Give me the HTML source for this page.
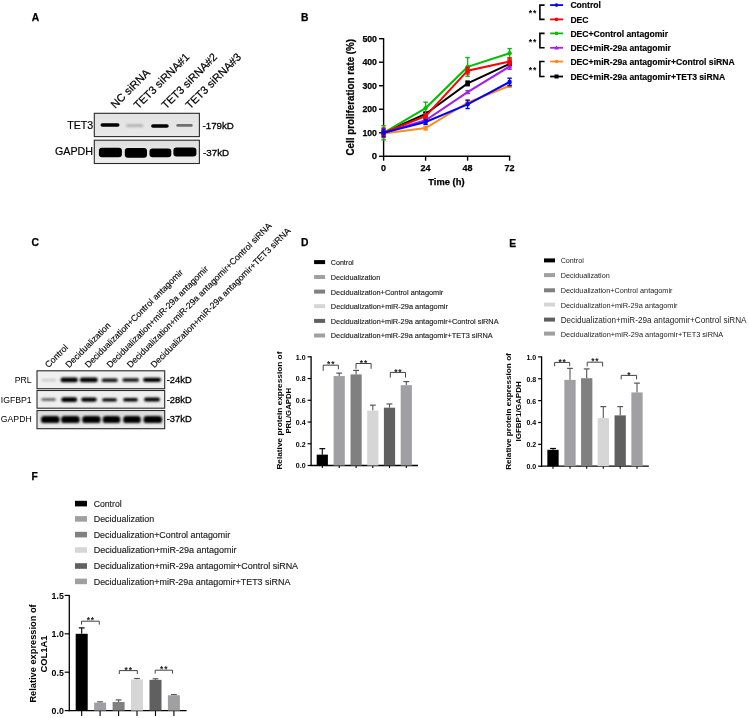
<!DOCTYPE html>
<html><head><meta charset="utf-8"><style>
html,body{margin:0;padding:0;background:#fff;}
svg{display:block;will-change:transform;filter:blur(0.3px);}
text{font-family:"Liberation Sans", sans-serif;}
</style></head><body>
<svg width="749" height="718" viewBox="0 0 749 718" font-family='"Liberation Sans", sans-serif'>
<defs>
<linearGradient id="gG" x1="0" y1="0" x2="0" y2="1"><stop offset="0" stop-color="#dadada"/><stop offset="1" stop-color="#ececec"/></linearGradient>
<linearGradient id="gA1" x1="0" y1="0" x2="0" y2="1"><stop offset="0" stop-color="#e2e2e2"/><stop offset="1" stop-color="#e8e8e8"/></linearGradient>
<linearGradient id="gA2" x1="0" y1="0" x2="0" y2="1"><stop offset="0" stop-color="#dedede"/><stop offset="1" stop-color="#eeeeee"/></linearGradient>
<filter id="b6" x="-30%" y="-100%" width="160%" height="300%"><feGaussianBlur stdDeviation="0.6"/></filter>
<filter id="b7" x="-30%" y="-100%" width="160%" height="300%"><feGaussianBlur stdDeviation="0.7"/></filter>
<filter id="b9" x="-30%" y="-100%" width="160%" height="300%"><feGaussianBlur stdDeviation="0.9"/></filter>
<filter id="b8" x="-30%" y="-100%" width="160%" height="300%"><feGaussianBlur stdDeviation="0.8"/></filter>
</defs>
<rect width="749" height="718" fill="#fff"/>
<text x="31.70" y="20.60" font-size="10.3" font-weight="bold" stroke="#000" stroke-width="0.25">A</text>
<text x="301.00" y="21.30" font-size="10.3" font-weight="bold" stroke="#000" stroke-width="0.25">B</text>
<text x="31.50" y="246.00" font-size="10.3" font-weight="bold" stroke="#000" stroke-width="0.25">C</text>
<text x="301.00" y="246.30" font-size="10.3" font-weight="bold" stroke="#000" stroke-width="0.25">D</text>
<text x="509.30" y="246.70" font-size="10.3" font-weight="bold" stroke="#000" stroke-width="0.25">E</text>
<text x="31.50" y="479.60" font-size="10.3" font-weight="bold" stroke="#000" stroke-width="0.25">F</text>
<rect x="94.30" y="113.30" width="105.10" height="23.30" fill="url(#gA1)" stroke="#2a2a2a" stroke-width="1.1"/>
<rect x="94.30" y="140.20" width="105.10" height="23.30" fill="url(#gA2)" stroke="#2a2a2a" stroke-width="1.1"/>
<rect x="100.50" y="123.25" width="19.00" height="3.50" rx="1.75" fill="#000" opacity="1.0" filter="url(#b7)"/>
<rect x="126.00" y="124.20" width="17.40" height="2.80" rx="1.40" fill="#b0b0b0" opacity="1.0" filter="url(#b8)"/>
<rect x="151.10" y="124.25" width="17.60" height="3.50" rx="1.75" fill="#000" opacity="1.0" filter="url(#b7)"/>
<rect x="176.30" y="123.95" width="16.40" height="2.90" rx="1.45" fill="#707070" opacity="1.0" filter="url(#b7)"/>
<rect x="98.90" y="147.70" width="23.00" height="9.60" rx="3.00" fill="#000" opacity="1.0" filter="url(#b6)"/>
<rect x="124.80" y="148.10" width="22.20" height="9.60" rx="3.00" fill="#000" opacity="1.0" filter="url(#b6)"/>
<rect x="149.50" y="148.60" width="21.80" height="8.60" rx="3.00" fill="#000" opacity="1.0" filter="url(#b6)"/>
<rect x="173.40" y="147.50" width="23.00" height="9.00" rx="3.00" fill="#000" opacity="1.0" filter="url(#b6)"/>
<text x="93.10" y="128.90" font-size="11.7" text-anchor="end" textLength="25.9" lengthAdjust="spacingAndGlyphs" stroke="#000" stroke-width="0.2">TET3</text>
<text x="93.10" y="154.80" font-size="11.8" text-anchor="end" textLength="38.1" lengthAdjust="spacingAndGlyphs" stroke="#000" stroke-width="0.2">GAPDH</text>
<text x="202.50" y="128.70" font-size="9.8" textLength="31.4" lengthAdjust="spacingAndGlyphs" stroke="#000" stroke-width="0.3">-179kD</text>
<text x="203.00" y="156.00" font-size="9.8" textLength="26.1" lengthAdjust="spacingAndGlyphs" stroke="#000" stroke-width="0.3">-37kD</text>
<text x="115.20" y="108.90" font-size="11" transform="rotate(-45 115.20 108.90)" stroke="#000" stroke-width="0.2">NC siRNA</text>
<text x="138.20" y="109.60" font-size="11" transform="rotate(-45 138.20 109.60)" stroke="#000" stroke-width="0.2">TET3 siRNA#1</text>
<text x="166.00" y="109.60" font-size="11" transform="rotate(-45 166.00 109.60)" stroke="#000" stroke-width="0.2">TET3 siRNA#2</text>
<text x="190.00" y="109.60" font-size="11" transform="rotate(-45 190.00 109.60)" stroke="#000" stroke-width="0.2">TET3 siRNA#3</text>
<line x1="383.60" y1="38.10" x2="383.60" y2="156.90" stroke="#000" stroke-width="1.4"/>
<line x1="382.90" y1="156.30" x2="510.30" y2="156.30" stroke="#000" stroke-width="1.4"/>
<line x1="379.00" y1="156.30" x2="383.60" y2="156.30" stroke="#000" stroke-width="1.4"/>
<text x="377.00" y="159.40" font-size="9.5" font-weight="bold" text-anchor="end" stroke="#000" stroke-width="0.25">0</text>
<line x1="379.00" y1="132.78" x2="383.60" y2="132.78" stroke="#000" stroke-width="1.4"/>
<text x="377.00" y="135.88" font-size="9.5" font-weight="bold" text-anchor="end" textLength="14.6" lengthAdjust="spacingAndGlyphs" stroke="#000" stroke-width="0.25">100</text>
<line x1="379.00" y1="109.26" x2="383.60" y2="109.26" stroke="#000" stroke-width="1.4"/>
<text x="377.00" y="112.36" font-size="9.5" font-weight="bold" text-anchor="end" textLength="14.6" lengthAdjust="spacingAndGlyphs" stroke="#000" stroke-width="0.25">200</text>
<line x1="379.00" y1="85.74" x2="383.60" y2="85.74" stroke="#000" stroke-width="1.4"/>
<text x="377.00" y="88.84" font-size="9.5" font-weight="bold" text-anchor="end" textLength="14.6" lengthAdjust="spacingAndGlyphs" stroke="#000" stroke-width="0.25">300</text>
<line x1="379.00" y1="62.22" x2="383.60" y2="62.22" stroke="#000" stroke-width="1.4"/>
<text x="377.00" y="65.32" font-size="9.5" font-weight="bold" text-anchor="end" textLength="14.6" lengthAdjust="spacingAndGlyphs" stroke="#000" stroke-width="0.25">400</text>
<line x1="379.00" y1="38.70" x2="383.60" y2="38.70" stroke="#000" stroke-width="1.4"/>
<text x="377.00" y="41.80" font-size="9.5" font-weight="bold" text-anchor="end" textLength="14.6" lengthAdjust="spacingAndGlyphs" stroke="#000" stroke-width="0.25">500</text>
<line x1="383.60" y1="156.30" x2="383.60" y2="160.70" stroke="#000" stroke-width="1.4"/>
<text x="383.60" y="170.90" font-size="9.0" font-weight="bold" text-anchor="middle" stroke="#000" stroke-width="0.25">0</text>
<line x1="425.60" y1="156.30" x2="425.60" y2="160.70" stroke="#000" stroke-width="1.4"/>
<text x="425.60" y="170.90" font-size="9.0" font-weight="bold" text-anchor="middle" stroke="#000" stroke-width="0.25">24</text>
<line x1="467.60" y1="156.30" x2="467.60" y2="160.70" stroke="#000" stroke-width="1.4"/>
<text x="467.60" y="170.90" font-size="9.0" font-weight="bold" text-anchor="middle" stroke="#000" stroke-width="0.25">48</text>
<line x1="509.60" y1="156.30" x2="509.60" y2="160.70" stroke="#000" stroke-width="1.4"/>
<text x="509.60" y="170.90" font-size="9.0" font-weight="bold" text-anchor="middle" stroke="#000" stroke-width="0.25">72</text>
<text x="446.40" y="184.60" font-size="9.1" font-weight="bold" text-anchor="middle" textLength="36.2" lengthAdjust="spacingAndGlyphs" stroke="#000" stroke-width="0.25">Time (h)</text>
<text x="353.60" y="97.20" font-size="10.0" font-weight="bold" text-anchor="middle" transform="rotate(-90 353.60 97.20)" textLength="116.6" lengthAdjust="spacingAndGlyphs" stroke="#000" stroke-width="0.25">Cell proliferation rate (%)</text>
<polyline points="383.60,133.49 425.60,128.08 467.60,102.67 509.60,85.74" fill="none" stroke="#ff8c1a" stroke-width="2"/>
<line x1="383.60" y1="132.07" x2="383.60" y2="134.90" stroke="#ff8c1a" stroke-width="1.4"/>
<line x1="381.40" y1="132.07" x2="385.80" y2="132.07" stroke="#ff8c1a" stroke-width="1.4"/>
<line x1="381.40" y1="134.90" x2="385.80" y2="134.90" stroke="#ff8c1a" stroke-width="1.4"/>
<circle cx="383.60" cy="133.49" r="2.2" fill="#ff8c1a"/>
<line x1="425.60" y1="126.19" x2="425.60" y2="129.96" stroke="#ff8c1a" stroke-width="1.4"/>
<line x1="423.40" y1="126.19" x2="427.80" y2="126.19" stroke="#ff8c1a" stroke-width="1.4"/>
<line x1="423.40" y1="129.96" x2="427.80" y2="129.96" stroke="#ff8c1a" stroke-width="1.4"/>
<circle cx="425.60" cy="128.08" r="2.2" fill="#ff8c1a"/>
<line x1="467.60" y1="100.79" x2="467.60" y2="104.56" stroke="#ff8c1a" stroke-width="1.4"/>
<line x1="465.40" y1="100.79" x2="469.80" y2="100.79" stroke="#ff8c1a" stroke-width="1.4"/>
<line x1="465.40" y1="104.56" x2="469.80" y2="104.56" stroke="#ff8c1a" stroke-width="1.4"/>
<circle cx="467.60" cy="102.67" r="2.2" fill="#ff8c1a"/>
<line x1="509.60" y1="84.33" x2="509.60" y2="87.15" stroke="#ff8c1a" stroke-width="1.4"/>
<line x1="507.40" y1="84.33" x2="511.80" y2="84.33" stroke="#ff8c1a" stroke-width="1.4"/>
<line x1="507.40" y1="87.15" x2="511.80" y2="87.15" stroke="#ff8c1a" stroke-width="1.4"/>
<circle cx="509.60" cy="85.74" r="2.2" fill="#ff8c1a"/>
<polyline points="383.60,132.78 425.60,113.96 467.60,83.39 509.60,63.87" fill="none" stroke="#000000" stroke-width="2"/>
<line x1="383.60" y1="130.90" x2="383.60" y2="134.66" stroke="#000000" stroke-width="1.4"/>
<line x1="381.40" y1="130.90" x2="385.80" y2="130.90" stroke="#000000" stroke-width="1.4"/>
<line x1="381.40" y1="134.66" x2="385.80" y2="134.66" stroke="#000000" stroke-width="1.4"/>
<rect x="381.30" y="130.48" width="4.60" height="4.60" fill="#000000"/>
<line x1="425.60" y1="112.08" x2="425.60" y2="115.85" stroke="#000000" stroke-width="1.4"/>
<line x1="423.40" y1="112.08" x2="427.80" y2="112.08" stroke="#000000" stroke-width="1.4"/>
<line x1="423.40" y1="115.85" x2="427.80" y2="115.85" stroke="#000000" stroke-width="1.4"/>
<rect x="423.30" y="111.66" width="4.60" height="4.60" fill="#000000"/>
<line x1="467.60" y1="81.04" x2="467.60" y2="85.74" stroke="#000000" stroke-width="1.4"/>
<line x1="465.40" y1="81.04" x2="469.80" y2="81.04" stroke="#000000" stroke-width="1.4"/>
<line x1="465.40" y1="85.74" x2="469.80" y2="85.74" stroke="#000000" stroke-width="1.4"/>
<rect x="465.30" y="81.09" width="4.60" height="4.60" fill="#000000"/>
<line x1="509.60" y1="61.98" x2="509.60" y2="65.75" stroke="#000000" stroke-width="1.4"/>
<line x1="507.40" y1="61.98" x2="511.80" y2="61.98" stroke="#000000" stroke-width="1.4"/>
<line x1="507.40" y1="65.75" x2="511.80" y2="65.75" stroke="#000000" stroke-width="1.4"/>
<rect x="507.30" y="61.57" width="4.60" height="4.60" fill="#000000"/>
<polyline points="383.60,132.78 425.60,120.31 467.60,92.09 509.60,66.45" fill="none" stroke="#a020f0" stroke-width="2"/>
<line x1="383.60" y1="130.90" x2="383.60" y2="134.66" stroke="#a020f0" stroke-width="1.4"/>
<line x1="381.40" y1="130.90" x2="385.80" y2="130.90" stroke="#a020f0" stroke-width="1.4"/>
<line x1="381.40" y1="134.66" x2="385.80" y2="134.66" stroke="#a020f0" stroke-width="1.4"/>
<path d="M381.10,134.58 L386.10,134.58 L383.60,130.28 Z" fill="#a020f0"/>
<line x1="425.60" y1="118.43" x2="425.60" y2="122.20" stroke="#a020f0" stroke-width="1.4"/>
<line x1="423.40" y1="118.43" x2="427.80" y2="118.43" stroke="#a020f0" stroke-width="1.4"/>
<line x1="423.40" y1="122.20" x2="427.80" y2="122.20" stroke="#a020f0" stroke-width="1.4"/>
<path d="M423.10,122.11 L428.10,122.11 L425.60,117.81 Z" fill="#a020f0"/>
<line x1="467.60" y1="90.68" x2="467.60" y2="93.50" stroke="#a020f0" stroke-width="1.4"/>
<line x1="465.40" y1="90.68" x2="469.80" y2="90.68" stroke="#a020f0" stroke-width="1.4"/>
<line x1="465.40" y1="93.50" x2="469.80" y2="93.50" stroke="#a020f0" stroke-width="1.4"/>
<path d="M465.10,93.89 L470.10,93.89 L467.60,89.59 Z" fill="#a020f0"/>
<line x1="509.60" y1="63.63" x2="509.60" y2="69.28" stroke="#a020f0" stroke-width="1.4"/>
<line x1="507.40" y1="63.63" x2="511.80" y2="63.63" stroke="#a020f0" stroke-width="1.4"/>
<line x1="507.40" y1="69.28" x2="511.80" y2="69.28" stroke="#a020f0" stroke-width="1.4"/>
<path d="M507.10,68.25 L512.10,68.25 L509.60,63.95 Z" fill="#a020f0"/>
<polyline points="383.60,132.78 425.60,108.08 467.60,66.92 509.60,53.28" fill="none" stroke="#00c000" stroke-width="2"/>
<line x1="383.60" y1="125.72" x2="383.60" y2="139.84" stroke="#00c000" stroke-width="1.4"/>
<line x1="381.40" y1="125.72" x2="385.80" y2="125.72" stroke="#00c000" stroke-width="1.4"/>
<line x1="381.40" y1="139.84" x2="385.80" y2="139.84" stroke="#00c000" stroke-width="1.4"/>
<circle cx="383.60" cy="132.78" r="2.2" fill="#00c000"/>
<line x1="425.60" y1="102.20" x2="425.60" y2="113.96" stroke="#00c000" stroke-width="1.4"/>
<line x1="423.40" y1="102.20" x2="427.80" y2="102.20" stroke="#00c000" stroke-width="1.4"/>
<line x1="423.40" y1="113.96" x2="427.80" y2="113.96" stroke="#00c000" stroke-width="1.4"/>
<circle cx="425.60" cy="108.08" r="2.2" fill="#00c000"/>
<line x1="467.60" y1="57.52" x2="467.60" y2="76.33" stroke="#00c000" stroke-width="1.4"/>
<line x1="465.40" y1="57.52" x2="469.80" y2="57.52" stroke="#00c000" stroke-width="1.4"/>
<line x1="465.40" y1="76.33" x2="469.80" y2="76.33" stroke="#00c000" stroke-width="1.4"/>
<circle cx="467.60" cy="66.92" r="2.2" fill="#00c000"/>
<line x1="509.60" y1="48.58" x2="509.60" y2="57.99" stroke="#00c000" stroke-width="1.4"/>
<line x1="507.40" y1="48.58" x2="511.80" y2="48.58" stroke="#00c000" stroke-width="1.4"/>
<line x1="507.40" y1="57.99" x2="511.80" y2="57.99" stroke="#00c000" stroke-width="1.4"/>
<circle cx="509.60" cy="53.28" r="2.2" fill="#00c000"/>
<polyline points="383.60,132.78 425.60,116.08 467.60,70.69 509.60,61.51" fill="none" stroke="#ff0000" stroke-width="2"/>
<line x1="383.60" y1="128.08" x2="383.60" y2="137.48" stroke="#ff0000" stroke-width="1.4"/>
<line x1="381.40" y1="128.08" x2="385.80" y2="128.08" stroke="#ff0000" stroke-width="1.4"/>
<line x1="381.40" y1="137.48" x2="385.80" y2="137.48" stroke="#ff0000" stroke-width="1.4"/>
<rect x="381.30" y="130.48" width="4.60" height="4.60" fill="#ff0000"/>
<line x1="425.60" y1="113.73" x2="425.60" y2="118.43" stroke="#ff0000" stroke-width="1.4"/>
<line x1="423.40" y1="113.73" x2="427.80" y2="113.73" stroke="#ff0000" stroke-width="1.4"/>
<line x1="423.40" y1="118.43" x2="427.80" y2="118.43" stroke="#ff0000" stroke-width="1.4"/>
<rect x="423.30" y="113.78" width="4.60" height="4.60" fill="#ff0000"/>
<line x1="467.60" y1="67.39" x2="467.60" y2="73.98" stroke="#ff0000" stroke-width="1.4"/>
<line x1="465.40" y1="67.39" x2="469.80" y2="67.39" stroke="#ff0000" stroke-width="1.4"/>
<line x1="465.40" y1="73.98" x2="469.80" y2="73.98" stroke="#ff0000" stroke-width="1.4"/>
<rect x="465.30" y="68.39" width="4.60" height="4.60" fill="#ff0000"/>
<line x1="509.60" y1="57.99" x2="509.60" y2="65.04" stroke="#ff0000" stroke-width="1.4"/>
<line x1="507.40" y1="57.99" x2="511.80" y2="57.99" stroke="#ff0000" stroke-width="1.4"/>
<line x1="507.40" y1="65.04" x2="511.80" y2="65.04" stroke="#ff0000" stroke-width="1.4"/>
<rect x="507.30" y="59.21" width="4.60" height="4.60" fill="#ff0000"/>
<polyline points="383.60,132.78 425.60,121.96 467.60,104.32 509.60,81.98" fill="none" stroke="#0000ff" stroke-width="2"/>
<line x1="383.60" y1="129.25" x2="383.60" y2="136.31" stroke="#0000ff" stroke-width="1.4"/>
<line x1="381.40" y1="129.25" x2="385.80" y2="129.25" stroke="#0000ff" stroke-width="1.4"/>
<line x1="381.40" y1="136.31" x2="385.80" y2="136.31" stroke="#0000ff" stroke-width="1.4"/>
<circle cx="383.60" cy="132.78" r="2.2" fill="#0000ff"/>
<line x1="425.60" y1="119.61" x2="425.60" y2="124.31" stroke="#0000ff" stroke-width="1.4"/>
<line x1="423.40" y1="119.61" x2="427.80" y2="119.61" stroke="#0000ff" stroke-width="1.4"/>
<line x1="423.40" y1="124.31" x2="427.80" y2="124.31" stroke="#0000ff" stroke-width="1.4"/>
<circle cx="425.60" cy="121.96" r="2.2" fill="#0000ff"/>
<line x1="467.60" y1="100.09" x2="467.60" y2="108.55" stroke="#0000ff" stroke-width="1.4"/>
<line x1="465.40" y1="100.09" x2="469.80" y2="100.09" stroke="#0000ff" stroke-width="1.4"/>
<line x1="465.40" y1="108.55" x2="469.80" y2="108.55" stroke="#0000ff" stroke-width="1.4"/>
<circle cx="467.60" cy="104.32" r="2.2" fill="#0000ff"/>
<line x1="509.60" y1="78.21" x2="509.60" y2="85.74" stroke="#0000ff" stroke-width="1.4"/>
<line x1="507.40" y1="78.21" x2="511.80" y2="78.21" stroke="#0000ff" stroke-width="1.4"/>
<line x1="507.40" y1="85.74" x2="511.80" y2="85.74" stroke="#0000ff" stroke-width="1.4"/>
<circle cx="509.60" cy="81.98" r="2.2" fill="#0000ff"/>
<line x1="550.10" y1="5.10" x2="563.00" y2="5.10" stroke="#0000ff" stroke-width="1.8"/>
<circle cx="556.5" cy="5.1" r="1.8" fill="#0000ff"/>
<text x="570.40" y="8.20" font-size="8.6" font-weight="bold" stroke="#000" stroke-width="0.15">Control</text>
<line x1="550.10" y1="19.40" x2="563.00" y2="19.40" stroke="#ff0000" stroke-width="1.8"/>
<circle cx="556.5" cy="19.4" r="1.8" fill="#ff0000"/>
<text x="570.40" y="22.50" font-size="8.6" font-weight="bold" stroke="#000" stroke-width="0.15">DEC</text>
<line x1="550.10" y1="33.40" x2="563.00" y2="33.40" stroke="#00c000" stroke-width="1.8"/>
<circle cx="556.5" cy="33.4" r="1.8" fill="#00c000"/>
<text x="570.40" y="36.50" font-size="8.6" font-weight="bold" stroke="#000" stroke-width="0.15">DEC+Control antagomir</text>
<line x1="550.10" y1="47.80" x2="563.00" y2="47.80" stroke="#a020f0" stroke-width="1.8"/>
<path d="M554.2,49.4 L558.8,49.4 L556.5,45.599999999999994 Z" fill="#a020f0"/>
<text x="570.40" y="50.90" font-size="8.6" font-weight="bold" stroke="#000" stroke-width="0.15">DEC+miR-29a antagomir</text>
<line x1="550.10" y1="61.50" x2="563.00" y2="61.50" stroke="#ff8c1a" stroke-width="1.8"/>
<circle cx="556.5" cy="61.5" r="1.8" fill="#ff8c1a"/>
<text x="570.40" y="64.60" font-size="8.6" font-weight="bold" stroke="#000" stroke-width="0.15">DEC+miR-29a antagomir+Control siRNA</text>
<line x1="550.10" y1="76.50" x2="563.00" y2="76.50" stroke="#000000" stroke-width="1.8"/>
<rect x="554.50" y="74.50" width="4.00" height="4.00" fill="#000000"/>
<text x="570.40" y="79.60" font-size="8.6" font-weight="bold" stroke="#000" stroke-width="0.15">DEC+miR-29a antagomir+TET3 siRNA</text>
<path d="M544.6,5.1 L539.9,5.1 L539.9,19.4 L544.6,19.4" stroke="#000" stroke-width="1.6" fill="none"/>
<text x="530.50" y="16.24" font-size="8.6" font-weight="bold" text-anchor="middle">*</text>
<text x="534.70" y="16.24" font-size="8.6" font-weight="bold" text-anchor="middle">*</text>
<path d="M544.6,33.4 L539.9,33.4 L539.9,47.8 L544.6,47.8" stroke="#000" stroke-width="1.6" fill="none"/>
<text x="530.50" y="44.59" font-size="8.6" font-weight="bold" text-anchor="middle">*</text>
<text x="534.70" y="44.59" font-size="8.6" font-weight="bold" text-anchor="middle">*</text>
<path d="M544.6,61.5 L539.9,61.5 L539.9,76.5 L544.6,76.5" stroke="#000" stroke-width="1.6" fill="none"/>
<text x="530.50" y="72.99" font-size="8.6" font-weight="bold" text-anchor="middle">*</text>
<text x="534.70" y="72.99" font-size="8.6" font-weight="bold" text-anchor="middle">*</text>
<rect x="37.00" y="370.80" width="127.70" height="17.90" fill="#f0f0f0" stroke="#2a2a2a" stroke-width="1.1"/>
<rect x="37.00" y="390.50" width="127.70" height="17.70" fill="#eeeeee" stroke="#2a2a2a" stroke-width="1.1"/>
<rect x="37.00" y="410.50" width="127.70" height="18.20" fill="url(#gG)" stroke="#2a2a2a" stroke-width="1.1"/>
<rect x="41.50" y="379.10" width="15.00" height="2.20" rx="1.10" fill="#c8c8c8" opacity="1.0" filter="url(#b9)"/>
<rect x="60.50" y="377.60" width="17.40" height="4.60" rx="2.30" fill="#000" opacity="1.0" filter="url(#b8)"/>
<rect x="79.80" y="377.60" width="18.00" height="4.60" rx="2.30" fill="#000" opacity="1.0" filter="url(#b8)"/>
<rect x="101.70" y="378.50" width="16.00" height="3.40" rx="1.70" fill="#0a0a0a" opacity="1.0" filter="url(#b8)"/>
<rect x="122.40" y="378.30" width="16.60" height="3.40" rx="1.70" fill="#0a0a0a" opacity="1.0" filter="url(#b8)"/>
<rect x="143.00" y="377.70" width="18.00" height="4.20" rx="2.10" fill="#000" opacity="1.0" filter="url(#b8)"/>
<rect x="41.40" y="398.20" width="14.40" height="2.60" rx="1.30" fill="#555" opacity="1.0" filter="url(#b8)"/>
<rect x="61.20" y="397.30" width="16.00" height="4.80" rx="2.40" fill="#000" opacity="1.0" filter="url(#b8)"/>
<rect x="81.20" y="397.50" width="15.60" height="4.20" rx="2.10" fill="#000" opacity="1.0" filter="url(#b8)"/>
<rect x="102.10" y="398.20" width="14.80" height="3.40" rx="1.70" fill="#050505" opacity="1.0" filter="url(#b8)"/>
<rect x="123.10" y="398.00" width="14.80" height="3.40" rx="1.70" fill="#050505" opacity="1.0" filter="url(#b8)"/>
<rect x="144.00" y="397.40" width="16.00" height="4.00" rx="2.00" fill="#000" opacity="1.0" filter="url(#b8)"/>
<rect x="41.00" y="415.90" width="18.60" height="7.20" rx="3.20" fill="#000" opacity="1.0" filter="url(#b8)"/>
<rect x="61.10" y="415.90" width="18.60" height="7.20" rx="3.20" fill="#000" opacity="1.0" filter="url(#b8)"/>
<rect x="82.20" y="415.90" width="18.40" height="7.20" rx="3.20" fill="#000" opacity="1.0" filter="url(#b8)"/>
<rect x="102.70" y="415.90" width="17.60" height="7.20" rx="3.20" fill="#000" opacity="1.0" filter="url(#b8)"/>
<rect x="123.20" y="415.90" width="17.60" height="7.20" rx="3.20" fill="#000" opacity="1.0" filter="url(#b8)"/>
<rect x="143.50" y="415.90" width="18.60" height="7.20" rx="3.20" fill="#000" opacity="1.0" filter="url(#b8)"/>
<text x="31.70" y="382.70" font-size="8.7" text-anchor="end">PRL</text>
<text x="31.70" y="402.50" font-size="8.7" text-anchor="end">IGFBP1</text>
<text x="31.70" y="421.70" font-size="8.7" text-anchor="end">GAPDH</text>
<text x="166.70" y="382.70" font-size="9.6" textLength="25.0" lengthAdjust="spacingAndGlyphs" stroke="#000" stroke-width="0.3">-24kD</text>
<text x="166.70" y="402.60" font-size="9.6" textLength="25.0" lengthAdjust="spacingAndGlyphs" stroke="#000" stroke-width="0.3">-28kD</text>
<text x="166.70" y="422.40" font-size="9.6" textLength="25.0" lengthAdjust="spacingAndGlyphs" stroke="#000" stroke-width="0.3">-37kD</text>
<text x="48.60" y="368.20" font-size="8.8" transform="rotate(-45 48.60 368.20)" stroke="#000" stroke-width="0.15">Control</text>
<text x="69.10" y="368.20" font-size="8.8" transform="rotate(-45 69.10 368.20)" stroke="#000" stroke-width="0.15">Decidualization</text>
<text x="88.40" y="368.20" font-size="8.8" transform="rotate(-45 88.40 368.20)" stroke="#000" stroke-width="0.15">Decidualization+Control antagomir</text>
<text x="110.20" y="368.20" font-size="8.8" transform="rotate(-45 110.20 368.20)" stroke="#000" stroke-width="0.15">Decidualization+miR-29a antagomir</text>
<text x="130.50" y="368.20" font-size="8.8" transform="rotate(-45 130.50 368.20)" stroke="#000" stroke-width="0.15">Decidualization+miR-29a antagomir+Control siRNA</text>
<text x="154.30" y="368.20" font-size="8.8" transform="rotate(-45 154.30 368.20)" stroke="#000" stroke-width="0.15">Decidualization+miR-29a antagomir+TET3 siRNA</text>
<rect x="314.10" y="260.10" width="11.00" height="4.00" fill="#000000"/>
<text x="330.80" y="265.02" font-size="8.1" fill="#222" textLength="22.9" lengthAdjust="spacingAndGlyphs" stroke="#222" stroke-width="0.15">Control</text>
<rect x="314.10" y="275.00" width="11.00" height="4.00" fill="#a0a0a4"/>
<text x="330.80" y="279.92" font-size="8.1" fill="#222" textLength="49.4" lengthAdjust="spacingAndGlyphs" stroke="#222" stroke-width="0.15">Decidualization</text>
<rect x="314.10" y="289.60" width="11.00" height="4.00" fill="#808080"/>
<text x="330.80" y="294.52" font-size="8.1" fill="#222" textLength="112.5" lengthAdjust="spacingAndGlyphs" stroke="#222" stroke-width="0.15">Decidualization+Control antagomir</text>
<rect x="314.10" y="304.20" width="11.00" height="4.00" fill="#d6d6d6"/>
<text x="330.80" y="309.12" font-size="8.1" fill="#222" textLength="117.09999999999997" lengthAdjust="spacingAndGlyphs" stroke="#222" stroke-width="0.15">Decidualization+miR-29a antagomir</text>
<rect x="314.10" y="318.90" width="11.00" height="4.00" fill="#606060"/>
<text x="330.80" y="323.82" font-size="8.1" fill="#222" textLength="167.8" lengthAdjust="spacingAndGlyphs" stroke="#222" stroke-width="0.15">Decidualization+miR-29a antagomir+Control siRNA</text>
<rect x="314.10" y="333.50" width="11.00" height="4.00" fill="#a0a0a4"/>
<text x="330.80" y="338.42" font-size="8.1" fill="#222" textLength="161.89999999999998" lengthAdjust="spacingAndGlyphs" stroke="#222" stroke-width="0.15">Decidualization+miR-29a antagomir+TET3 siRNA</text>
<line x1="311.10" y1="356.30" x2="311.10" y2="466.10" stroke="#000" stroke-width="1.3"/>
<line x1="310.50" y1="465.50" x2="418.00" y2="465.50" stroke="#000" stroke-width="1.3"/>
<line x1="307.60" y1="465.50" x2="311.10" y2="465.50" stroke="#000" stroke-width="1.2"/>
<text x="305.60" y="468.40" font-size="8.1" font-weight="bold" text-anchor="end" textLength="9.8" lengthAdjust="spacingAndGlyphs">0.0</text>
<line x1="307.60" y1="443.76" x2="311.10" y2="443.76" stroke="#000" stroke-width="1.2"/>
<text x="305.60" y="446.66" font-size="8.1" font-weight="bold" text-anchor="end" textLength="9.8" lengthAdjust="spacingAndGlyphs">0.2</text>
<line x1="307.60" y1="422.02" x2="311.10" y2="422.02" stroke="#000" stroke-width="1.2"/>
<text x="305.60" y="424.92" font-size="8.1" font-weight="bold" text-anchor="end" textLength="9.8" lengthAdjust="spacingAndGlyphs">0.4</text>
<line x1="307.60" y1="400.28" x2="311.10" y2="400.28" stroke="#000" stroke-width="1.2"/>
<text x="305.60" y="403.18" font-size="8.1" font-weight="bold" text-anchor="end" textLength="9.8" lengthAdjust="spacingAndGlyphs">0.6</text>
<line x1="307.60" y1="378.54" x2="311.10" y2="378.54" stroke="#000" stroke-width="1.2"/>
<text x="305.60" y="381.44" font-size="8.1" font-weight="bold" text-anchor="end" textLength="9.8" lengthAdjust="spacingAndGlyphs">0.8</text>
<line x1="307.60" y1="356.80" x2="311.10" y2="356.80" stroke="#000" stroke-width="1.2"/>
<text x="305.60" y="359.70" font-size="8.1" font-weight="bold" text-anchor="end" textLength="9.8" lengthAdjust="spacingAndGlyphs">1.0</text>
<line x1="322.30" y1="465.50" x2="322.30" y2="468.00" stroke="#000" stroke-width="1.1"/>
<line x1="339.20" y1="465.50" x2="339.20" y2="468.00" stroke="#000" stroke-width="1.1"/>
<line x1="356.10" y1="465.50" x2="356.10" y2="468.00" stroke="#000" stroke-width="1.1"/>
<line x1="372.80" y1="465.50" x2="372.80" y2="468.00" stroke="#000" stroke-width="1.1"/>
<line x1="389.50" y1="465.50" x2="389.50" y2="468.00" stroke="#000" stroke-width="1.1"/>
<line x1="406.30" y1="465.50" x2="406.30" y2="468.00" stroke="#000" stroke-width="1.1"/>
<line x1="322.30" y1="448.65" x2="322.30" y2="454.63" stroke="#000" stroke-width="1.1"/>
<line x1="319.40" y1="448.65" x2="325.20" y2="448.65" stroke="#000" stroke-width="1.2"/>
<rect x="316.70" y="454.63" width="11.20" height="10.87" fill="#000000"/>
<line x1="339.20" y1="373.11" x2="339.20" y2="376.04" stroke="#555" stroke-width="1.1"/>
<line x1="336.30" y1="373.11" x2="342.10" y2="373.11" stroke="#555" stroke-width="1.2"/>
<rect x="333.60" y="376.04" width="11.20" height="89.46" fill="#a0a0a4"/>
<line x1="356.10" y1="370.39" x2="356.10" y2="374.41" stroke="#555" stroke-width="1.1"/>
<line x1="353.20" y1="370.39" x2="359.00" y2="370.39" stroke="#555" stroke-width="1.2"/>
<rect x="350.50" y="374.41" width="11.20" height="91.09" fill="#808080"/>
<line x1="372.80" y1="405.17" x2="372.80" y2="410.61" stroke="#555" stroke-width="1.1"/>
<line x1="369.90" y1="405.17" x2="375.70" y2="405.17" stroke="#555" stroke-width="1.2"/>
<rect x="367.20" y="410.61" width="11.20" height="54.89" fill="#d6d6d6"/>
<line x1="389.50" y1="403.98" x2="389.50" y2="407.67" stroke="#555" stroke-width="1.1"/>
<line x1="386.60" y1="403.98" x2="392.40" y2="403.98" stroke="#555" stroke-width="1.2"/>
<rect x="383.90" y="407.67" width="11.20" height="57.83" fill="#606060"/>
<line x1="406.30" y1="381.58" x2="406.30" y2="385.17" stroke="#555" stroke-width="1.1"/>
<line x1="403.40" y1="381.58" x2="409.20" y2="381.58" stroke="#555" stroke-width="1.2"/>
<rect x="400.70" y="385.17" width="11.20" height="80.33" fill="#a0a0a4"/>
<path d="M323.20,370.80 L323.20,365.20 L338.40,365.20 L338.40,369.20" stroke="#444" stroke-width="1" fill="none"/>
<text x="328.70" y="367.48" font-size="8.4" font-weight="bold" text-anchor="middle" fill="#222">*</text>
<text x="332.90" y="367.48" font-size="8.4" font-weight="bold" text-anchor="middle" fill="#222">*</text>
<path d="M356.00,368.80 L356.00,363.50 L371.10,363.50 L371.10,368.80" stroke="#444" stroke-width="1" fill="none"/>
<text x="361.45" y="365.78" font-size="8.4" font-weight="bold" text-anchor="middle" fill="#222">*</text>
<text x="365.65" y="365.78" font-size="8.4" font-weight="bold" text-anchor="middle" fill="#222">*</text>
<path d="M390.30,377.60 L390.30,372.40 L405.50,372.40 L405.50,377.60" stroke="#444" stroke-width="1" fill="none"/>
<text x="395.80" y="374.68" font-size="8.4" font-weight="bold" text-anchor="middle" fill="#222">*</text>
<text x="400.00" y="374.68" font-size="8.4" font-weight="bold" text-anchor="middle" fill="#222">*</text>
<text x="282.40" y="410.60" font-size="8.1" font-weight="bold" text-anchor="middle" transform="rotate(-90 282.40 410.60)" textLength="118" lengthAdjust="spacingAndGlyphs">Relative protein expression of</text>
<text x="290.90" y="410.70" font-size="8.1" font-weight="bold" text-anchor="middle" transform="rotate(-90 290.90 410.70)" textLength="45.8" lengthAdjust="spacingAndGlyphs">PRL/GAPDH</text>
<rect x="544.00" y="258.40" width="11.00" height="4.00" fill="#000000"/>
<text x="560.70" y="263.32" font-size="8.1" fill="#222" textLength="23.1" lengthAdjust="spacingAndGlyphs">Control</text>
<rect x="544.00" y="273.10" width="11.00" height="4.00" fill="#a0a0a4"/>
<text x="560.70" y="278.02" font-size="8.1" fill="#222" textLength="49.0" lengthAdjust="spacingAndGlyphs">Decidualization</text>
<rect x="544.00" y="288.30" width="11.00" height="4.00" fill="#808080"/>
<text x="560.70" y="293.22" font-size="8.1" fill="#222" textLength="111.79999999999995" lengthAdjust="spacingAndGlyphs">Decidualization+Control antagomir</text>
<rect x="544.00" y="302.60" width="11.00" height="4.00" fill="#d6d6d6"/>
<text x="560.70" y="307.52" font-size="8.1" fill="#222" textLength="116.89999999999998" lengthAdjust="spacingAndGlyphs">Decidualization+miR-29a antagomir</text>
<rect x="544.00" y="317.60" width="11.00" height="4.00" fill="#606060"/>
<text x="560.70" y="323.02" font-size="9.5" fill="#222" textLength="185.79999999999995" lengthAdjust="spacingAndGlyphs">Decidualization+miR-29a antagomir+Control siRNA</text>
<rect x="544.00" y="331.60" width="11.00" height="4.00" fill="#a0a0a4"/>
<text x="560.70" y="336.52" font-size="8.1" fill="#222" textLength="162.5999999999999" lengthAdjust="spacingAndGlyphs">Decidualization+miR-29a antagomir+TET3 siRNA</text>
<line x1="541.60" y1="356.40" x2="541.60" y2="466.80" stroke="#000" stroke-width="1.3"/>
<line x1="541.00" y1="466.20" x2="648.80" y2="466.20" stroke="#000" stroke-width="1.3"/>
<line x1="538.10" y1="466.20" x2="541.60" y2="466.20" stroke="#000" stroke-width="1.2"/>
<text x="536.20" y="469.10" font-size="8.1" font-weight="bold" text-anchor="end" textLength="9.8" lengthAdjust="spacingAndGlyphs">0.0</text>
<line x1="538.10" y1="444.34" x2="541.60" y2="444.34" stroke="#000" stroke-width="1.2"/>
<text x="536.20" y="447.24" font-size="8.1" font-weight="bold" text-anchor="end" textLength="9.8" lengthAdjust="spacingAndGlyphs">0.2</text>
<line x1="538.10" y1="422.48" x2="541.60" y2="422.48" stroke="#000" stroke-width="1.2"/>
<text x="536.20" y="425.38" font-size="8.1" font-weight="bold" text-anchor="end" textLength="9.8" lengthAdjust="spacingAndGlyphs">0.4</text>
<line x1="538.10" y1="400.62" x2="541.60" y2="400.62" stroke="#000" stroke-width="1.2"/>
<text x="536.20" y="403.52" font-size="8.1" font-weight="bold" text-anchor="end" textLength="9.8" lengthAdjust="spacingAndGlyphs">0.6</text>
<line x1="538.10" y1="378.76" x2="541.60" y2="378.76" stroke="#000" stroke-width="1.2"/>
<text x="536.20" y="381.66" font-size="8.1" font-weight="bold" text-anchor="end" textLength="9.8" lengthAdjust="spacingAndGlyphs">0.8</text>
<line x1="538.10" y1="356.90" x2="541.60" y2="356.90" stroke="#000" stroke-width="1.2"/>
<text x="536.20" y="359.80" font-size="8.1" font-weight="bold" text-anchor="end" textLength="9.8" lengthAdjust="spacingAndGlyphs">1.0</text>
<line x1="553.00" y1="466.20" x2="553.00" y2="468.70" stroke="#000" stroke-width="1.1"/>
<line x1="570.00" y1="466.20" x2="570.00" y2="468.70" stroke="#000" stroke-width="1.1"/>
<line x1="586.70" y1="466.20" x2="586.70" y2="468.70" stroke="#000" stroke-width="1.1"/>
<line x1="603.30" y1="466.20" x2="603.30" y2="468.70" stroke="#000" stroke-width="1.1"/>
<line x1="620.20" y1="466.20" x2="620.20" y2="468.70" stroke="#000" stroke-width="1.1"/>
<line x1="637.00" y1="466.20" x2="637.00" y2="468.70" stroke="#000" stroke-width="1.1"/>
<line x1="553.00" y1="448.49" x2="553.00" y2="449.81" stroke="#000" stroke-width="1.1"/>
<line x1="550.10" y1="448.49" x2="555.90" y2="448.49" stroke="#000" stroke-width="1.2"/>
<rect x="547.35" y="449.81" width="11.30" height="16.39" fill="#000000"/>
<line x1="570.00" y1="368.38" x2="570.00" y2="379.85" stroke="#555" stroke-width="1.1"/>
<line x1="567.10" y1="368.38" x2="572.90" y2="368.38" stroke="#555" stroke-width="1.2"/>
<rect x="564.35" y="379.85" width="11.30" height="86.35" fill="#a0a0a4"/>
<line x1="586.70" y1="368.92" x2="586.70" y2="378.21" stroke="#555" stroke-width="1.1"/>
<line x1="583.80" y1="368.92" x2="589.60" y2="368.92" stroke="#555" stroke-width="1.2"/>
<rect x="581.05" y="378.21" width="11.30" height="87.99" fill="#808080"/>
<line x1="603.30" y1="406.63" x2="603.30" y2="418.11" stroke="#555" stroke-width="1.1"/>
<line x1="600.40" y1="406.63" x2="606.20" y2="406.63" stroke="#555" stroke-width="1.2"/>
<rect x="597.65" y="418.11" width="11.30" height="48.09" fill="#d6d6d6"/>
<line x1="620.20" y1="406.63" x2="620.20" y2="415.38" stroke="#555" stroke-width="1.1"/>
<line x1="617.30" y1="406.63" x2="623.10" y2="406.63" stroke="#555" stroke-width="1.2"/>
<rect x="614.55" y="415.38" width="11.30" height="50.82" fill="#606060"/>
<line x1="637.00" y1="383.13" x2="637.00" y2="392.42" stroke="#555" stroke-width="1.1"/>
<line x1="634.10" y1="383.13" x2="639.90" y2="383.13" stroke="#555" stroke-width="1.2"/>
<rect x="631.35" y="392.42" width="11.30" height="73.78" fill="#a0a0a4"/>
<path d="M554.60,366.30 L554.60,362.40 L569.70,362.40 L569.70,366.30" stroke="#444" stroke-width="1" fill="none"/>
<text x="560.05" y="364.68" font-size="8.4" font-weight="bold" text-anchor="middle" fill="#222">*</text>
<text x="564.25" y="364.68" font-size="8.4" font-weight="bold" text-anchor="middle" fill="#222">*</text>
<path d="M587.20,366.40 L587.20,362.20 L602.60,362.20 L602.60,366.40" stroke="#444" stroke-width="1" fill="none"/>
<text x="592.80" y="364.48" font-size="8.4" font-weight="bold" text-anchor="middle" fill="#222">*</text>
<text x="597.00" y="364.48" font-size="8.4" font-weight="bold" text-anchor="middle" fill="#222">*</text>
<path d="M621.20,379.40 L621.20,375.40 L636.60,375.40 L636.60,379.40" stroke="#444" stroke-width="1" fill="none"/>
<text x="628.90" y="377.68" font-size="8.4" font-weight="bold" text-anchor="middle" fill="#222">*</text>
<text x="511.00" y="411.50" font-size="8.1" font-weight="bold" text-anchor="middle" transform="rotate(-90 511.00 411.50)" textLength="116.7" lengthAdjust="spacingAndGlyphs">Relative protein expression of</text>
<text x="521.10" y="411.40" font-size="8.1" font-weight="bold" text-anchor="middle" transform="rotate(-90 521.10 411.40)" textLength="60.4" lengthAdjust="spacingAndGlyphs">IGFBP1/GAPDH</text>
<rect x="75.00" y="500.80" width="12.00" height="5.60" fill="#000000"/>
<text x="93.70" y="506.98" font-size="9.4" fill="#222" textLength="28" lengthAdjust="spacingAndGlyphs" stroke="#222" stroke-width="0.15">Control</text>
<rect x="75.00" y="516.10" width="12.00" height="5.60" fill="#a0a0a4"/>
<text x="93.70" y="522.28" font-size="9.4" fill="#222" textLength="60.6" lengthAdjust="spacingAndGlyphs" stroke="#222" stroke-width="0.15">Decidualization</text>
<rect x="75.00" y="531.80" width="12.00" height="5.60" fill="#808080"/>
<text x="93.70" y="537.98" font-size="9.4" fill="#222" textLength="136.5" lengthAdjust="spacingAndGlyphs" stroke="#222" stroke-width="0.15">Decidualization+Control antagomir</text>
<rect x="75.00" y="547.20" width="12.00" height="5.60" fill="#d6d6d6"/>
<text x="93.70" y="553.38" font-size="9.4" fill="#222" textLength="142.89999999999998" lengthAdjust="spacingAndGlyphs" stroke="#222" stroke-width="0.15">Decidualization+miR-29a antagomir</text>
<rect x="75.00" y="563.20" width="12.00" height="5.60" fill="#606060"/>
<text x="93.70" y="569.38" font-size="9.4" fill="#222" textLength="204.40000000000003" lengthAdjust="spacingAndGlyphs" stroke="#222" stroke-width="0.15">Decidualization+miR-29a antagomir+Control siRNA</text>
<rect x="75.00" y="578.60" width="12.00" height="5.60" fill="#a0a0a4"/>
<text x="93.70" y="584.78" font-size="9.4" fill="#222" textLength="196.7" lengthAdjust="spacingAndGlyphs" stroke="#222" stroke-width="0.15">Decidualization+miR-29a antagomir+TET3 siRNA</text>
<line x1="69.30" y1="594.90" x2="69.30" y2="711.20" stroke="#000" stroke-width="1.3"/>
<line x1="68.70" y1="710.60" x2="186.60" y2="710.60" stroke="#000" stroke-width="1.3"/>
<line x1="64.70" y1="710.60" x2="69.30" y2="710.60" stroke="#000" stroke-width="1.2"/>
<text x="63.80" y="714.10" font-size="8.8" font-weight="bold" text-anchor="end">0.0</text>
<line x1="64.70" y1="672.20" x2="69.30" y2="672.20" stroke="#000" stroke-width="1.2"/>
<text x="63.80" y="675.70" font-size="8.8" font-weight="bold" text-anchor="end">0.5</text>
<line x1="64.70" y1="633.80" x2="69.30" y2="633.80" stroke="#000" stroke-width="1.2"/>
<text x="63.80" y="637.30" font-size="8.8" font-weight="bold" text-anchor="end">1.0</text>
<line x1="64.70" y1="595.40" x2="69.30" y2="595.40" stroke="#000" stroke-width="1.2"/>
<text x="63.80" y="598.90" font-size="8.8" font-weight="bold" text-anchor="end">1.5</text>
<line x1="81.70" y1="710.60" x2="81.70" y2="716.00" stroke="#000" stroke-width="1.1"/>
<line x1="100.10" y1="710.60" x2="100.10" y2="716.00" stroke="#000" stroke-width="1.1"/>
<line x1="118.60" y1="710.60" x2="118.60" y2="716.00" stroke="#000" stroke-width="1.1"/>
<line x1="137.00" y1="710.60" x2="137.00" y2="716.00" stroke="#000" stroke-width="1.1"/>
<line x1="155.50" y1="710.60" x2="155.50" y2="716.00" stroke="#000" stroke-width="1.1"/>
<line x1="173.90" y1="710.60" x2="173.90" y2="716.00" stroke="#000" stroke-width="1.1"/>
<line x1="81.70" y1="627.89" x2="81.70" y2="633.80" stroke="#000" stroke-width="1.1"/>
<line x1="78.80" y1="627.89" x2="84.60" y2="627.89" stroke="#000" stroke-width="1.2"/>
<rect x="75.70" y="633.80" width="12.00" height="76.80" fill="#000000"/>
<line x1="100.10" y1="701.84" x2="100.10" y2="702.61" stroke="#555" stroke-width="1.1"/>
<line x1="97.20" y1="701.84" x2="103.00" y2="701.84" stroke="#555" stroke-width="1.2"/>
<rect x="94.10" y="702.61" width="12.00" height="7.99" fill="#a0a0a4"/>
<line x1="118.60" y1="699.92" x2="118.60" y2="702.00" stroke="#555" stroke-width="1.1"/>
<line x1="115.70" y1="699.92" x2="121.50" y2="699.92" stroke="#555" stroke-width="1.2"/>
<rect x="112.60" y="702.00" width="12.00" height="8.60" fill="#808080"/>
<line x1="137.00" y1="678.50" x2="137.00" y2="679.42" stroke="#555" stroke-width="1.1"/>
<line x1="134.10" y1="678.50" x2="139.90" y2="678.50" stroke="#555" stroke-width="1.2"/>
<rect x="131.00" y="679.42" width="12.00" height="31.18" fill="#d6d6d6"/>
<line x1="155.50" y1="678.80" x2="155.50" y2="679.88" stroke="#555" stroke-width="1.1"/>
<line x1="152.60" y1="678.80" x2="158.40" y2="678.80" stroke="#555" stroke-width="1.2"/>
<rect x="149.50" y="679.88" width="12.00" height="30.72" fill="#606060"/>
<line x1="173.90" y1="694.63" x2="173.90" y2="695.24" stroke="#555" stroke-width="1.1"/>
<line x1="171.00" y1="694.63" x2="176.80" y2="694.63" stroke="#555" stroke-width="1.2"/>
<rect x="167.90" y="695.24" width="12.00" height="15.36" fill="#a0a0a4"/>
<path d="M81.50,624.60 L81.50,621.20 L99.30,621.20 L99.30,624.60" stroke="#444" stroke-width="1" fill="none"/>
<text x="88.30" y="623.48" font-size="8.4" font-weight="bold" text-anchor="middle" fill="#222">*</text>
<text x="92.50" y="623.48" font-size="8.4" font-weight="bold" text-anchor="middle" fill="#222">*</text>
<path d="M119.30,674.00 L119.30,670.60 L137.30,670.60 L137.30,674.00" stroke="#444" stroke-width="1" fill="none"/>
<text x="126.20" y="672.88" font-size="8.4" font-weight="bold" text-anchor="middle" fill="#222">*</text>
<text x="130.40" y="672.88" font-size="8.4" font-weight="bold" text-anchor="middle" fill="#222">*</text>
<path d="M155.20,673.60 L155.20,670.20 L172.50,670.20 L172.50,673.60" stroke="#444" stroke-width="1" fill="none"/>
<text x="161.75" y="672.48" font-size="8.4" font-weight="bold" text-anchor="middle" fill="#222">*</text>
<text x="165.95" y="672.48" font-size="8.4" font-weight="bold" text-anchor="middle" fill="#222">*</text>
<text x="35.90" y="653.50" font-size="9.2" font-weight="bold" text-anchor="middle" transform="rotate(-90 35.90 653.50)" textLength="98.2" lengthAdjust="spacingAndGlyphs">Relative expression of</text>
<text x="47.10" y="654.00" font-size="9.2" font-weight="bold" text-anchor="middle" transform="rotate(-90 47.10 654.00)" textLength="37.2" lengthAdjust="spacingAndGlyphs">COL1A1</text>
</svg>
</body></html>
